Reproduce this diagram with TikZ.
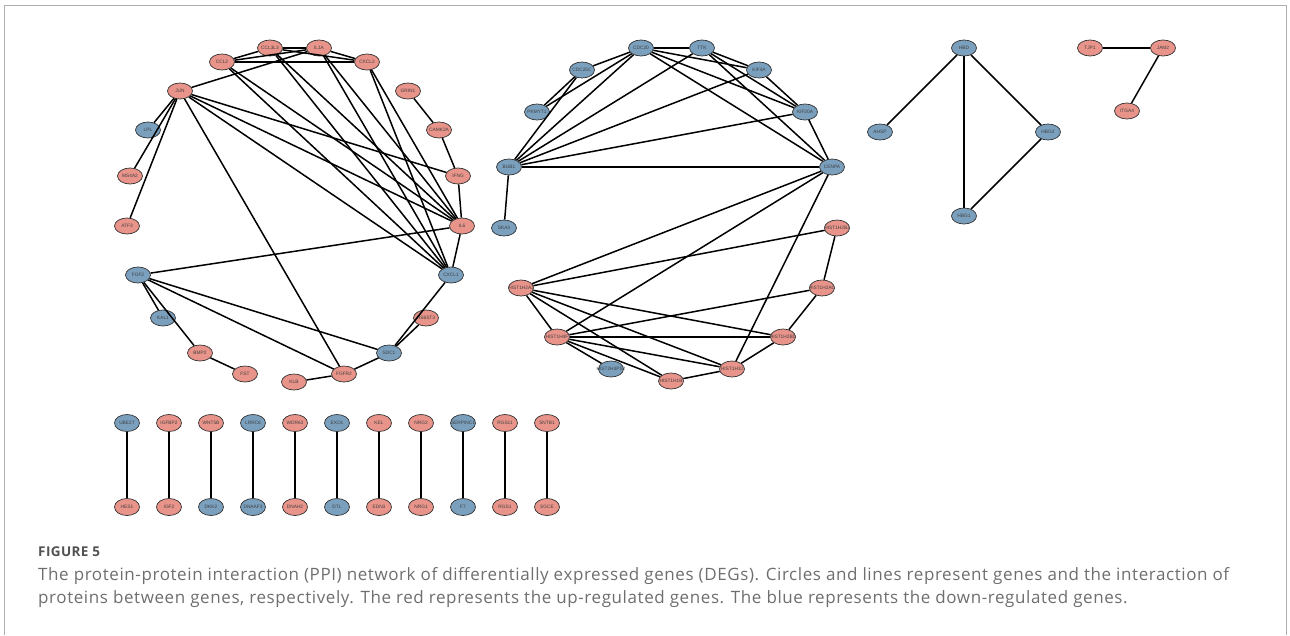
\documentclass[tikz,border=0pt]{standalone}
\usepackage{fontspec}
\setmainfont{Open Sans}
\setsansfont{Liberation Sans}
\usetikzlibrary{shapes.geometric}
\definecolor{upred}{RGB}{233,148,138}
\definecolor{downblue}{RGB}{122,160,190}
\definecolor{rimgray}{RGB}{50,50,50}
\definecolor{capgray}{RGB}{110,110,110}
\definecolor{framegray}{RGB}{175,175,175}
\tikzset{
  gene/.style={ellipse,draw=rimgray,line width=0.7pt,minimum width=25pt,minimum height=16pt,inner sep=0pt,
    font=\sffamily\fontsize{4.8}{4.8}\selectfont,text=black!75,
    execute at begin node={\hbox to 0pt\bgroup\hss},
    execute at end node={\hss\egroup}},
  up/.style={gene,fill=upred},
  down/.style={gene,fill=downblue},
  link/.style={line width=1.5pt,black},
  capt/.style={anchor=base west,inner sep=0pt,text=capgray,
    font=\addfontfeatures{LetterSpace=3.5}\fontsize{17}{20}\selectfont},
  figlab/.style={anchor=base west,inner sep=0pt,text=black!68,
    font=\addfontfeatures{LetterSpace=3}\fontsize{13.5}{15}\selectfont\bfseries},
}
\begin{document}
\begin{tikzpicture}[x=1pt,y=-1pt]
\useasboundingbox (0,0) rectangle (1290,635);
\draw[framegray,line width=1pt] (4,635) -- (4,5) -- (1286,5) -- (1286,635);
% ---------- cluster 1
\node[up]   (JUN)    at (180,91)  {JUN};
\node[up]   (CCL2)   at (222,62)  {CCL2};
\node[up]   (CCL3L3) at (270,48)  {CCL3L3};
\node[up]   (IL1A)   at (319,48)  {IL1A};
\node[up]   (CXCL2)  at (367,62)  {CXCL2};
\node[up]   (GRIN1)  at (408,91)  {GRIN1};
\node[up]   (CAMK2A) at (439,130) {CAMK2A};
\node[up]   (IFNG)   at (458,176) {IFNG};
\node[up]   (IL6)    at (462,226) {IL6};
\node[down] (CXCL1)  at (451,275) {CXCL1};
\node[up]   (HS6ST3) at (426,318) {HS6ST3};
\node[down] (SDC1)   at (389,353) {SDC1};
\node[up]   (FGFR2)  at (344,374) {FGFR2};
\node[up]   (KLB)    at (294,382) {KLB};
\node[up]   (FST)    at (245,374) {FST};
\node[up]   (BMP2)   at (200,353) {BMP2};
\node[down] (KAL1)   at (163,318) {KAL1};
\node[down] (FGF2)   at (138,275) {FGF2};
\node[up]   (ATF3)   at (127,226) {ATF3};
\node[up]   (MS4A2)  at (130,176) {MS4A2};
\node[down] (LPL)    at (148,130) {LPL};
\foreach \a/\b in {JUN/LPL,JUN/MS4A2,JUN/ATF3,JUN/IL1A,JUN/FGFR2,JUN/IFNG,JUN/IL6,JUN/CXCL1,
  CCL2/CCL3L3,CCL2/IL1A,CCL2/CXCL2,CCL3L3/IL1A,CCL3L3/CXCL2,IL1A/CXCL2,
  CCL2/IL6,CCL2/CXCL1,CCL3L3/IL6,CCL3L3/CXCL1,IL1A/IL6,IL1A/CXCL1,CXCL2/IL6,CXCL2/CXCL1,
  IFNG/IL6,IL6/CXCL1,GRIN1/CAMK2A,CAMK2A/IFNG,IL6/FGF2,CXCL1/SDC1,HS6ST3/SDC1,
  FGF2/KAL1,FGF2/BMP2,BMP2/FST,FGF2/SDC1,FGF2/FGFR2,SDC1/FGFR2,FGFR2/KLB}
  \draw[link] (\a) -- (\b);
% ---------- cluster 2
\node[down] (CDC20)  at (641,48)  {CDC20};
\node[down] (TTK)    at (702,48)  {TTK};
\node[down] (CDC25C) at (582,70)  {CDC25C};
\node[down] (KIF4A)  at (759,70)  {KIF4A};
\node[down] (PKMYT1) at (537,112) {PKMYT1};
\node[down] (KIF20A) at (805,112) {KIF20A};
\node[down] (BUB1)   at (509,167) {BUB1};
\node[down] (CENPA)  at (832,167) {CENPA};
\node[down] (SKA3)   at (504,228) {SKA3};
\node[up]   (H2BJ)   at (837,228) {HIST1H2BJ};
\node[up]   (H2AL)   at (521,288) {HIST1H2AJ};
\node[up]   (H2AR)   at (822,288) {HIST1H2AC};
\node[up]   (H4F)    at (557,337) {HIST1H4F};
\node[up]   (H2BD)   at (783,337) {HIST1H2BD};
\node[down] (H3PS2)  at (611,369) {HIST2H3PS2};
\node[up]   (H3J)    at (732,369) {HIST1H3J};
\node[up]   (H1B)    at (671,381) {HIST1H1B};
\foreach \a/\b in {CDC20/TTK,CDC20/CDC25C,CDC20/PKMYT1,CDC20/BUB1,CDC20/KIF4A,CDC20/KIF20A,CDC20/CENPA,
  TTK/KIF4A,TTK/KIF20A,TTK/CENPA,TTK/BUB1,CDC25C/PKMYT1,CDC25C/BUB1,
  KIF4A/BUB1,KIF4A/KIF20A,KIF20A/BUB1,KIF20A/CENPA,BUB1/CENPA,BUB1/SKA3,
  CENPA/H2AL,CENPA/H4F,CENPA/H3J,H2BJ/H2AL,H2BJ/H2AR,H2AR/H4F,H2AR/H2BD,
  H2AL/H4F,H2AL/H1B,H2AL/H3J,H2AL/H2BD,H4F/H2BD,H4F/H3J,H4F/H1B,H4F/H3PS2,
  H2BD/H3J,H3J/H1B}
  \draw[link] (\a) -- (\b);
% ---------- cluster 3 and 4
\node[down] (HBD)  at (964,48)  {HBD};
\node[down] (AHSP) at (880,132) {AHSP};
\node[down] (HBG2) at (1048,132) {HBG2};
\node[down] (HBG1) at (964,216) {HBG1};
\node[up] (TJP1)  at (1090,48)  {TJP1};
\node[up] (JAM2)  at (1163,48)  {JAM2};
\node[up] (ITGA4) at (1127,111) {ITGA4};
\foreach \a/\b in {HBD/AHSP,HBD/HBG1,HBD/HBG2,HBG2/HBG1,TJP1/JAM2,JAM2/ITGA4}
  \draw[link] (\a) -- (\b);
% ---------- pairs
\foreach \i/\t/\tc/\bn/\bc in {0/UBE2T/down/HES1/up,1/IGFBP2/up/IGF2/up,2/WNT5B/up/DKK2/down,
  3/LRRC6/down/DNAAF3/down,4/WDR63/up/DNAH2/up,5/EXO1/down/DTL/down,6/KEL/up/EDN3/up,
  7/NRG2/up/NRG1/up,8/SERPINC1/down/F7/down,9/RGS11/up/RGS1/up,10/SNTB1/up/SGCE/up}{
  \node[\tc,minimum height=17pt] (p\i a) at (127+42*\i,423) {\t};
  \node[\bc,minimum height=17pt] (p\i b) at (127+42*\i,507) {\bn};
  \draw[link] (p\i a) -- (p\i b);
}
% ---------- caption
\node[figlab] (fig) at (38,556) {FIGURE 5};
\node[capt] (c1) at (38,580) {The protein-protein interaction (PPI) network of differentially expressed genes (DEGs). Circles and lines represent genes and the interaction of};
\node[capt] (c2) at (38,603) {proteins between genes, respectively. The red represents the up-regulated genes. The blue represents the down-regulated genes.};
\end{tikzpicture}
\end{document}
